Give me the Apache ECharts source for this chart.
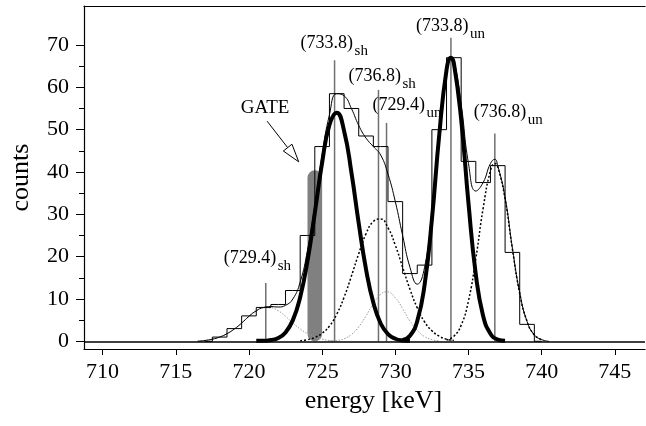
<!DOCTYPE html>
<html lang="en">
  <head>
    <meta charset="UTF-8" />
    <title>energy spectrum</title>
    <script src="https://cdn.jsdelivr.net/npm/echarts@6/dist/echarts.min.js"></script>
    <style>
      html, body { margin: 0; padding: 0; background: #fff; }
      #main { width: 646px; height: 426px; }
    </style>
  </head>
  <body>
    <div id="main"></div>
    <script type="text/javascript">
      // histogram (bin centres, counts)
      var histE = [717, 718, 719, 720, 721, 722, 723, 724, 725, 726, 727, 728, 729, 730, 731, 732, 733, 734, 735, 736, 737, 738, 739, 740];
      var histY = [0, 1, 3, 6, 8, 8.7, 12, 25, 46, 58.5, 55, 48.5, 46, 33, 16, 18, 50, 67, 42.5, 37.5, 41.5, 21, 4, 0];

      // total fit (thin line)
      var thinE = [716.5, 717, 717.5, 718, 718.5, 719, 719.5, 720, 720.5, 721, 721.5, 722, 722.5, 723, 723.5, 724, 724.5, 725, 725.5, 726, 726.5, 727, 727.5, 728, 728.5, 729, 729.5, 730, 730.5, 731, 731.5, 732, 732.5, 733, 733.5, 733.8, 734, 734.5, 735, 735.5, 736, 736.5, 736.8, 737, 737.5, 738, 738.5, 739, 739.5, 740, 740.5];
      var thinY = [0, 0.2, 0.5, 1, 1.8, 2.9, 4.3, 5.9, 7.2, 8, 8.2, 8.1, 8.5, 10, 14, 21.5, 32, 44, 53.5, 58.5, 58, 55, 51, 48, 46, 44, 39.5, 33, 25, 17.5, 13.5, 17.5, 31, 50, 64.5, 67, 66.5, 56, 42, 35.5, 37.5, 42, 43, 41.5, 34, 22, 11.5, 4.7, 1.5, 0.4, 0];

      // 733.8 components (thick)
      var thickShE = [720.5, 721, 721.5, 722, 722.5, 723, 723.5, 724, 724.5, 725, 725.5, 726, 726.5, 727, 727.5, 728, 728.5, 729, 729.5, 730, 730.5, 731];
      var thickShY = [0.1, 0.1, 0.3, 0.8, 2.1, 5, 10.4, 19, 30.3, 42.2, 51.1, 54, 49.7, 39.9, 27.9, 17, 9.1, 4.2, 1.7, 0.6, 0.2, 0.1];
      var thickUnE = [730.5, 731, 731.5, 732, 732.5, 733, 733.5, 733.8, 734, 734.5, 735, 735.5, 736, 736.5, 737, 737.5];
      var thickUnY = [0.3, 1.3, 4.8, 13.3, 28.8, 48.7, 64.1, 67, 65.7, 52.4, 32.6, 15.8, 6, 1.8, 0.4, 0.1];

      // 736.8 components (black dotted)
      var dotShE = [723.5, 724, 724.5, 725, 725.5, 726, 726.5, 727, 727.5, 728, 728.5, 729, 729.5, 730, 730.5, 731, 731.5, 732, 732.5, 733, 733.5, 734];
      var dotShY = [0.1, 0.4, 0.9, 1.9, 3.6, 6.4, 10.4, 15.4, 20.7, 25.4, 28.3, 28.9, 26.8, 22.7, 17.5, 12.3, 7.9, 4.6, 2.5, 1.2, 0.5, 0.2];
      var dotUnE = [733.5, 734, 734.5, 735, 735.5, 736, 736.5, 736.8, 737, 737.5, 738, 738.5, 739, 739.5, 740];
      var dotUnY = [0.3, 1.2, 3.8, 9.6, 19.5, 31.4, 40.3, 42, 41.2, 33.6, 21.8, 11.3, 4.7, 1.5, 0.4];

      // 729.4 components (grey dotted)
      var greyShE = [716.5, 717, 717.5, 718, 718.5, 719, 719.5, 720, 720.5, 721, 721.5, 722, 722.5, 723, 723.5, 724, 724.5, 725, 725.5, 726];
      var greyShY = [0.1, 0.2, 0.5, 1, 1.8, 2.9, 4.3, 5.9, 7.2, 7.9, 7.9, 7.2, 5.9, 4.3, 2.9, 1.8, 1, 0.5, 0.2, 0.1];
      var greyUnE = [725.5, 726, 726.5, 727, 727.5, 728, 728.5, 729, 729.4, 730, 730.5, 731, 731.5, 732, 732.5, 733];
      var greyUnY = [0.1, 0.2, 0.6, 1.6, 3.4, 6, 8.9, 11.1, 11.7, 10.3, 7.7, 4.8, 2.6, 1.1, 0.4, 0.1];

      // peak markers
      var peakE = [721.15, 725.85, 728.85, 729.4, 733.8, 736.8];
      var peakTop = [13.8, 66.4, 59.4, 51.6, 71.7, 49.1];
      var peakName = ["(729.4)", "(733.8)", "(736.8)", "(729.4)", "(733.8)", "(736.8)"];
      var peakSub = ["sh", "sh", "sh", "un", "un", "un"];

      // gate [from, to, top count, bottom count], arrow [x0, y0, x1, y1]
      var gate = [724.0, 725.0, 40.4, 0];
      var gateArrow = [721.24, 52.0, 723.4, 42.4];

      var xTicks = [710, 715, 720, 725, 730, 735, 740, 745];
      var yTicks = [0, 10, 20, 30, 40, 50, 60, 70];
      var yMinor = [5, 15, 25, 35, 45, 55, 65];

      // label offsets from top of each marker line (px)
      var labelOffset = [[-42, -25], [-34, -17], [-30, -14], [-14, -18], [-35, -12], [-21, -21]];

      var FONT = "Liberation Serif";

      function pairs(xs, ys) {
        return xs.map(function (x, i) { return [x, ys[i]]; });
      }

      function curve(xs, ys, style) {
        return {
          type: "line",
          data: pairs(xs, ys),
          smooth: true,
          showSymbol: false,
          silent: true,
          lineStyle: style,
        };
      }

      var myChart = echarts.init(document.getElementById("main"));
      var option = {
        animation: false,
        grid: { left: 82, right: 1, top: 6, bottom: 77 },
        xAxis: [
          {
            type: "value",
            min: 708.73,
            max: 747.06,
            name: "energy [keV]",
            nameLocation: "middle",
            nameGap: 39,
            nameTextStyle: { fontFamily: FONT, fontSize: 26, color: "#000", padding: [0, 0, 0, 18] },
            axisLine: { onZero: false, lineStyle: { color: "#000", width: 1.2 } },
            axisTick: { customValues: xTicks, length: 6, lineStyle: { color: "#000" } },
            axisLabel: { customValues: xTicks, margin: 12, fontFamily: FONT, fontSize: 22, color: "#000" },
            splitLine: { show: false },
          },
          {
            type: "value",
            position: "top",
            min: 708.73,
            max: 747.06,
            axisLine: { onZero: false, lineStyle: { color: "#000", width: 1.2 } },
            axisTick: { show: false },
            axisLabel: { show: false },
            splitLine: { show: false },
          },
        ],
        yAxis: [
          {
            type: "value",
            min: -1.82,
            max: 79.21,
            name: "counts",
            nameLocation: "middle",
            nameGap: 50,
            nameTextStyle: { fontFamily: FONT, fontSize: 26, color: "#000" },
            axisLine: { onZero: false, lineStyle: { color: "#000", width: 1.2 } },
            axisTick: { customValues: yTicks, length: 8, lineStyle: { color: "#000" } },
            axisLabel: { customValues: yTicks, margin: 15, fontFamily: FONT, fontSize: 22, color: "#000" },
            splitLine: { show: false },
          },
          {
            type: "value",
            position: "left",
            min: -1.82,
            max: 79.21,
            axisLine: { show: false },
            axisTick: { customValues: yMinor, length: 5, lineStyle: { color: "#000" } },
            axisLabel: { show: false },
            splitLine: { show: false },
          },
        ],
        series: [
          {
            type: "custom",
            silent: true,
            data: [gate],
            renderItem: function (params, api) {
              var p0 = api.coord([api.value(0), api.value(2)]);
              var p1 = api.coord([api.value(1), api.value(3)]);
              var w = p1[0] - p0[0];
              return {
                type: "rect",
                shape: { x: p0[0], y: p0[1], width: w, height: p1[1] - p0[1], r: w / 2 },
                style: { fill: "#808080" },
              };
            },
          },
          curve(greyShE, greyShY, { color: "#9a9a9a", width: 1, type: [1.5, 1.5] }),
          curve(greyUnE, greyUnY, { color: "#9a9a9a", width: 1, type: [1.5, 1.5] }),
          curve(dotShE, dotShY, { color: "#000", width: 1.5, type: [2, 2] }),
          curve(dotUnE, dotUnY, { color: "#000", width: 1.5, type: [2, 2] }),
          {
            type: "line",
            step: "middle",
            data: pairs(histE, histY),
            showSymbol: false,
            silent: true,
            lineStyle: { color: "#000", width: 1 },
            markLine: {
              silent: true,
              symbol: "none",
              label: { show: false },
              lineStyle: { color: "#000", width: 1.5, type: "solid" },
              data: [{ yAxis: 0 }],
            },
          },
          curve(thinE, thinY, { color: "#000", width: 1 }),
          {
            type: "custom",
            silent: true,
            data: pairs(peakE, peakTop),
            renderItem: function (params, api) {
              var i = params.dataIndex;
              var bottom = api.coord([api.value(0), 0]);
              var top = api.coord([api.value(0), api.value(1)]);
              var off = labelOffset[i];
              return {
                type: "group",
                children: [
                  {
                    type: "line",
                    shape: { x1: bottom[0], y1: bottom[1], x2: top[0], y2: top[1] },
                    style: { stroke: "#707070", lineWidth: 1.5 },
                  },
                  {
                    type: "text",
                    x: top[0] + off[0],
                    y: top[1] + off[1],
                    style: { text: peakName[i], fontFamily: FONT, fontSize: 18, fill: "#000", align: "left", verticalAlign: "middle" },
                  },
                  {
                    type: "text",
                    x: top[0] + off[0] + 54,
                    y: top[1] + off[1] + 8,
                    style: { text: peakSub[i], fontFamily: FONT, fontSize: 15, fill: "#000", align: "left", verticalAlign: "middle" },
                  },
                ],
              };
            },
          },
          curve(thickShE, thickShY, { color: "#000", width: 4 }),
          curve(thickUnE, thickUnY, { color: "#000", width: 4 }),
          {
            type: "custom",
            silent: true,
            data: [gateArrow],
            renderItem: function (params, api) {
              var s = api.coord([api.value(0), api.value(1)]);
              var t = api.coord([api.value(2), api.value(3)]);
              var dx = t[0] - s[0], dy = t[1] - s[1];
              var len = Math.sqrt(dx * dx + dy * dy);
              var ux = dx / len, uy = dy / len;
              var bx = t[0] - ux * 18, by = t[1] - uy * 18;
              return {
                type: "group",
                children: [
                  {
                    type: "line",
                    shape: { x1: s[0], y1: s[1], x2: bx, y2: by },
                    style: { stroke: "#000", lineWidth: 1 },
                  },
                  {
                    type: "polygon",
                    shape: { points: [[t[0], t[1]], [bx - uy * 5.5, by + ux * 5.5], [bx + uy * 5.5, by - ux * 5.5]] },
                    style: { fill: "#fff", stroke: "#000", lineWidth: 1 },
                  },
                  {
                    type: "text",
                    x: s[0] - 2,
                    y: s[1] - 13,
                    style: { text: "GATE", fontFamily: FONT, fontSize: 19, fill: "#000", align: "center", verticalAlign: "middle" },
                  },
                ],
              };
            },
          },
        ],
      };

      myChart.setOption(option);
    </script>
  </body>
</html>
